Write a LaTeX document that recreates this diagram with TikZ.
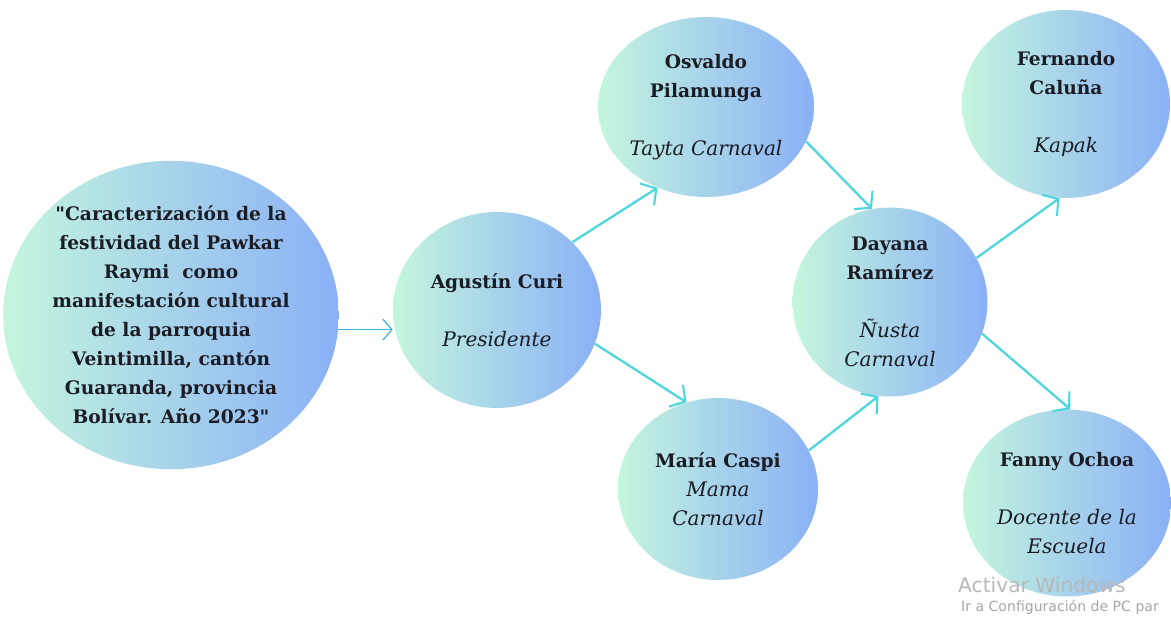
\documentclass[tikz,border=0pt]{standalone}
\usepackage{fontspec}
\setmainfont{DejaVu Serif}[Ligatures=TeXOff]
\newfontfamily\winfont{DejaVu Sans}
\usetikzlibrary{shapes.geometric,arrows.meta}
\definecolor{mintleft}{RGB}{196,246,222}
\definecolor{blueright}{RGB}{138,176,246}
\definecolor{linkcyan}{RGB}{78,214,222}
\definecolor{inkdark}{RGB}{28,28,36}
\newcommand{\rol}[1]{{\mdseries\itshape\fontsize{11.4}{16.5}\selectfont #1}}

\begin{document}
\begin{tikzpicture}[
   x=0.02cm, y=-0.02cm,
   bubble/.style={ellipse, shading=axis, left color=mintleft, right color=blueright,
      inner sep=0pt, align=center, text=inkdark,
      font=\fontsize{10.6}{16.5}\selectfont\bfseries},
   link/.style={-{Straight Barb[length=2.2mm,width=5.2mm,line width=1.2pt]}, line width=1.3pt, draw=linkcyan},
   thinlink/.style={-{Straight Barb[length=1.8mm,width=4.2mm]}, line width=0.7pt, draw=linkcyan!85!blue}
]
\useasboundingbox (0,0) rectangle (1171,616);

% Central theme
\node[bubble, minimum width=6.56cm, minimum height=6cm] (tema) at (171,315)
   {"Caracterización de la\\festividad del Pawkar\\Raymi\ \ como\\manifestación cultural\\de la parroquia\\Veintimilla, cantón\\Guaranda, provincia\\Bolívar. Año 2023"};

% Organisers
\node[bubble, minimum width=4.16cm, minimum height=3.92cm] (curi) at (497,310)
   {Agustín Curi\\[16.5pt]\rol{Presidente}};
\node[bubble, minimum width=4.12cm, minimum height=3.6cm] (osvaldo) at (706,107)
   {Osvaldo\\Pilamunga\\[16.5pt]\rol{Tayta Carnaval}};
\node[bubble, minimum width=4cm, minimum height=3.64cm] (caspi) at (718,489)
   {María Caspi\\\rol{Mama}\\\rol{Carnaval}};
\node[bubble, minimum width=3.9cm, minimum height=3.78cm] (dayana) at (890,302)
   {Dayana\\Ramírez\\[16.5pt]\rol{Ñusta}\\\rol{Carnaval}};
\node[bubble, minimum width=4.16cm, minimum height=3.76cm] (fernando) at (1066,104)
   {Fernando\\Caluña\\[16.5pt]\rol{Kapak}};
\node[bubble, minimum width=4.16cm, minimum height=3.74cm] (fanny) at (1067,503)
   {Fanny Ochoa\\[16.5pt]\rol{Docente de la}\\\rol{Escuela}};

% Connectors
\draw[thinlink] (tema.-5) -- (tema.-5 -| curi.west);
\draw[link] (curi.42) -- (osvaldo.239);
\draw[link] (curi.-19) -- (caspi.110);
\draw[link] (osvaldo.-19) -- (dayana.101);
\draw[link] (caspi.23) -- (dayana.263);
\draw[link] (dayana.27) -- (fernando.266);
\draw[link] (dayana.-19) -- (fanny.88);

% Screen watermark
\node[anchor=west, text=black!28, font=\winfont\fontsize{11.5}{12}\selectfont] (activar) at (952,585) {Activar Windows};
\node[anchor=west, text=black!35, font=\winfont\fontsize{8}{9}\selectfont] (config) at (955,607) {Ir a Configuración de PC par};
\end{tikzpicture}
\end{document}
